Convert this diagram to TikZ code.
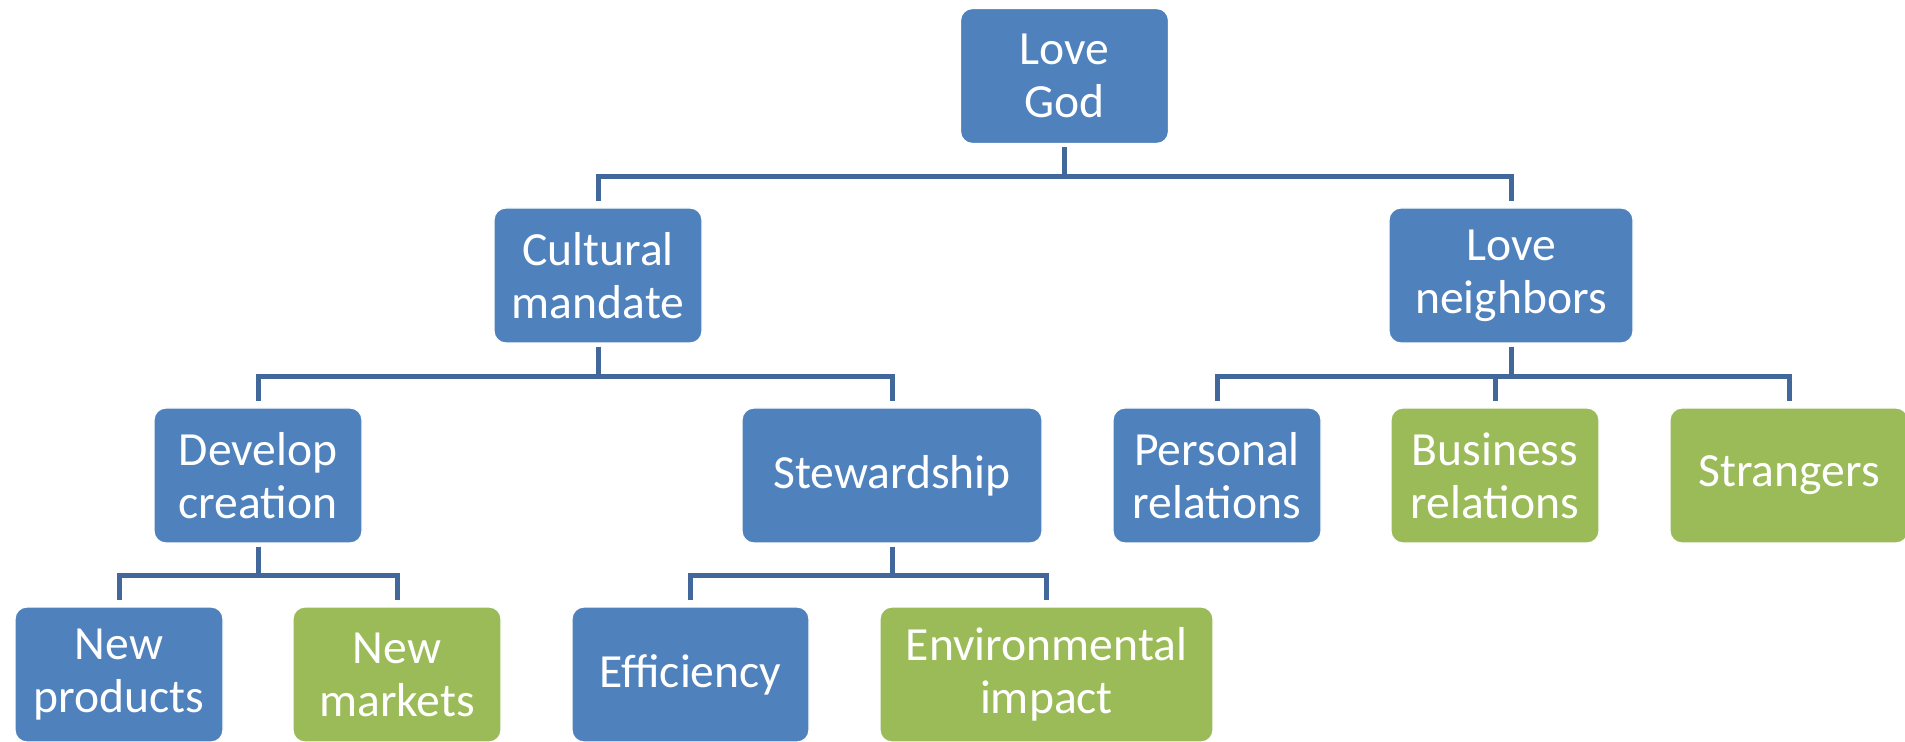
\documentclass[tikz,border=0pt]{standalone}
\usepackage{fontspec}
\setmainfont{Carlito}
\definecolor{boxblue}{RGB}{79,129,189}
\definecolor{boxgreen}{RGB}{155,187,89}
\definecolor{linkblue}{RGB}{66,104,155}

\begin{document}
\begin{tikzpicture}[x=0.5pt, y=-0.5pt,
    box/.style={rounded corners=6pt, fill=boxblue, draw=white, line width=0.6pt,
        text=white, align=center, inner sep=0pt, minimum width=104pt,
        minimum height=67.5pt, font=\fontsize{23.8}{26.5}\selectfont},
    greenbox/.style={box, fill=boxgreen},
    link/.style={draw=linkblue, line width=2.5pt, shorten <=1.5pt, shorten >=3pt}]
        \useasboundingbox (0,0) rectangle (1905,742);
        % top
        \node[box] (god) at (1064.5,76) {Love\\God};
        % second row
        \node[box] (mandate) at (598,275.5) {Cultural\\mandate};
        \node[box, minimum width=122pt] (neighbors) at (1511,275.5) {Love\\neighbors};
        % third row
        \node[box] (develop) at (258,475.5) {Develop\\creation};
        \node[box, minimum width=150pt] (stewardship) at (892,475.5) {Stewardship};
        \node[box] (personal) at (1217,475.5) {Personal\\relations};
        \node[greenbox] (business) at (1495,475.5) {Business\\relations};
        \node[greenbox, minimum width=119pt] (strangers) at (1789,475.5) {Strangers};
        % bottom row
        \node[box] (products) at (119,674.5) {New\\products};
        \node[greenbox] (markets) at (397,674.5) {New\\markets};
        \node[box, minimum width=118.5pt] (efficiency) at (690.5,674.5) {Efficiency};
        \node[greenbox, minimum width=166.5pt] (impact) at (1046.5,674.5) {Environmental\\impact};
        % connectors
        \draw[link] (god.south) -- ++(0,32) -| (mandate.north);
        \draw[link] (god.south) -- ++(0,32) -| (neighbors.north);
        \draw[link] (mandate.south) -- ++(0,33) -| (develop.north);
        \draw[link] (mandate.south) -- ++(0,33) -| (stewardship.north);
        \draw[link] (neighbors.south) -- ++(0,33) -| (personal.north);
        \draw[link] (neighbors.south) -- ++(0,33) -| (business.north);
        \draw[link] (neighbors.south) -- ++(0,33) -| (strangers.north);
        \draw[link] (develop.south) -- ++(0,32) -| (products.north);
        \draw[link] (develop.south) -- ++(0,32) -| (markets.north);
        \draw[link] (stewardship.south) -- ++(0,32) -| (efficiency.north);
        \draw[link] (stewardship.south) -- ++(0,32) -| (impact.north);
\end{tikzpicture}
\end{document}
